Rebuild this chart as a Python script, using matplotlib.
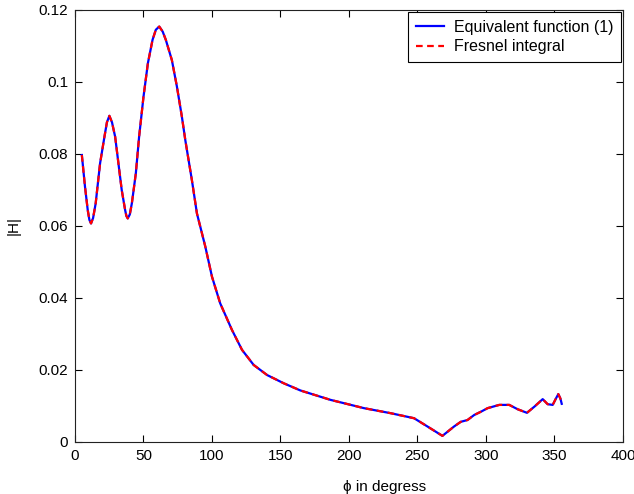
import matplotlib.pyplot as plt

# values
phi = [5, 7.3, 9.3, 10.5, 11.7, 13.2, 15.1, 18.3, 21.5, 23.3, 25.1, 27.0, 29.3, 31.7,
       34.1, 36.6, 37.5, 38.5, 40, 41.5, 44.4, 46.8, 50, 53.2, 56.6, 59, 61.5, 64,
       66.3, 70.7, 74.4, 78, 80.5, 85.3, 89, 95.1, 100, 106, 114.6, 121.9, 130.4,
       140.2, 152.4, 164.6, 186.5, 210.9, 230.4, 247.5, 257.3, 268.2, 276.7, 281.6,
       286.5, 291.4, 296.3, 301.2, 309.7, 317, 323.1, 329.9, 335.3, 341.4, 345,
       348.7, 351.1, 352.8, 354.3, 355.3]
h_equiv = [0.0797, 0.0709, 0.0644, 0.0617, 0.0607, 0.0622, 0.0663, 0.0774, 0.0848,
           0.0888, 0.0906, 0.0888, 0.0848, 0.0774, 0.0700, 0.0644, 0.0628, 0.0621,
           0.0632, 0.0663, 0.0746, 0.0848, 0.0959, 0.1052, 0.1117, 0.1145, 0.1154,
           0.1140, 0.1117, 0.1061, 0.0987, 0.0904, 0.0839, 0.0728, 0.0635, 0.0543,
           0.0459, 0.0385, 0.0311, 0.0256, 0.0214, 0.0186, 0.0163, 0.0143, 0.0117,
           0.0094, 0.0080, 0.0066, 0.0043, 0.0017, 0.0043, 0.0056, 0.0061, 0.0075,
           0.0084, 0.0094, 0.0103, 0.0103, 0.0091, 0.0081, 0.0098, 0.0119, 0.0105,
           0.0103, 0.0121, 0.0133, 0.0121, 0.0106]
h_fresnel = list(h_equiv)  # the two curves overlap in the picture

xticks = [0, 50, 100, 150, 200, 250, 300, 350, 400]
yticks = [0, 0.02, 0.04, 0.06, 0.08, 0.1, 0.12]
ytick_labels = ['0', '0.02', '0.04', '0.06', '0.08', '0.1', '0.12']

plt.rcParams['font.family'] = ['Liberation Sans', 'DejaVu Sans']
plt.rcParams['font.size'] = 11

fig = plt.figure(figsize=(6.34, 4.94), dpi=100)
ax = fig.add_axes([0.1183, 0.1053, 0.8643, 0.8745])

ax.plot(phi, h_equiv, color='#0000ff', lw=1.6, label='Equivalent function (1)')
ax.plot(phi, h_fresnel, color='#ff0000', lw=1.6, ls=(0, (3, 2)), label='Fresnel integral')

ax.set_xlim(0, 400)
ax.set_ylim(0, 0.12)
ax.set_xticks(xticks)
ax.set_yticks(yticks)
ax.set_yticklabels(ytick_labels)
ax.tick_params(direction='in', length=5, top=True, right=True, width=0.8)
ax.tick_params(axis='x', pad=5)
ax.tick_params(axis='y', pad=5)
for s in ax.spines.values():
    s.set_linewidth(0.8)
    s.set_color('#222222')

ax.set_xlabel('\u03d5 in degress', ha='left')
ax.xaxis.set_label_coords(0.489, -0.088)
ax.set_ylabel('|H|')
ax.yaxis.set_label_coords(-0.1, 0.5)

leg = ax.legend(loc='upper right', borderaxespad=0.15, fancybox=False,
                framealpha=1, edgecolor='black', handlelength=1.8,
                handletextpad=0.6, borderpad=0.45, labelspacing=0.3,
                fontsize=11.5)
leg.get_frame().set_linewidth(0.8)

fig.savefig('out.png', dpi=100)
